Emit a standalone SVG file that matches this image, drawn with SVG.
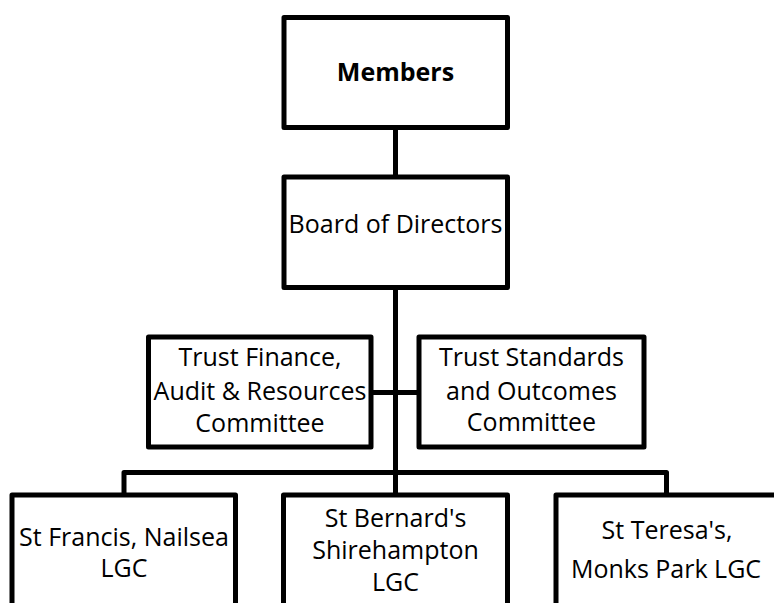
<svg xmlns="http://www.w3.org/2000/svg" width="774" height="603" viewBox="0 0 774 603">
<style>
.box{fill:#fff;stroke:#000;stroke-width:5;stroke-linejoin:round}
.ln{fill:none;stroke:#000;stroke-width:5;stroke-linejoin:round}
text{font-family:"Open Sans","Liberation Sans",Arial,sans-serif;font-size:25px;fill:#000;text-anchor:middle}
.b{font-weight:bold}
</style>
<rect width="774" height="603" fill="#fff"/>
<g id="connectors">
<line class="ln" x1="395.5" y1="127.5" x2="395.5" y2="177"/>
<line class="ln" x1="395.5" y1="287.5" x2="395.5" y2="495"/>
<line class="ln" x1="371" y1="392.5" x2="419" y2="392.5"/>
<polyline class="ln" points="124,495 124,472.5 666.5,472.5 666.5,495"/>
</g>
<g id="members">
<rect class="box" x="284" y="17.5" width="223.5" height="110"/>
<text class="b" x="395.5" y="81">Members</text>
</g>
<g id="board">
<rect class="box" x="284" y="177" width="223.5" height="110.5"/>
<text x="395.5" y="233">Board of Directors</text>
</g>
<g id="finance">
<rect class="box" x="148.5" y="337" width="222.5" height="110"/>
<text x="260" y="366">Trust Finance,</text>
<text x="260" y="400">Audit &amp; Resources</text>
<text x="260" y="432">Committee</text>
</g>
<g id="standards">
<rect class="box" x="419" y="337" width="225" height="110"/>
<text x="531.5" y="366">Trust Standards</text>
<text x="531.5" y="400">and Outcomes</text>
<text x="531.5" y="431">Committee</text>
</g>
<g id="francis">
<rect class="box" x="12" y="495" width="223.5" height="150"/>
<text x="124" y="546">St Francis, Nailsea</text>
<text x="124" y="577">LGC</text>
</g>
<g id="bernard">
<rect class="box" x="283.5" y="495" width="224" height="150"/>
<text x="395.5" y="527">St Bernard's</text>
<text x="395.5" y="559">Shirehampton</text>
<text x="395.5" y="591">LGC</text>
</g>
<g id="teresa">
<rect class="box" x="556" y="495" width="222" height="150"/>
<text x="667" y="539">St Teresa's,</text>
<text x="666" y="578">Monks Park LGC</text>
</g>
</svg>
